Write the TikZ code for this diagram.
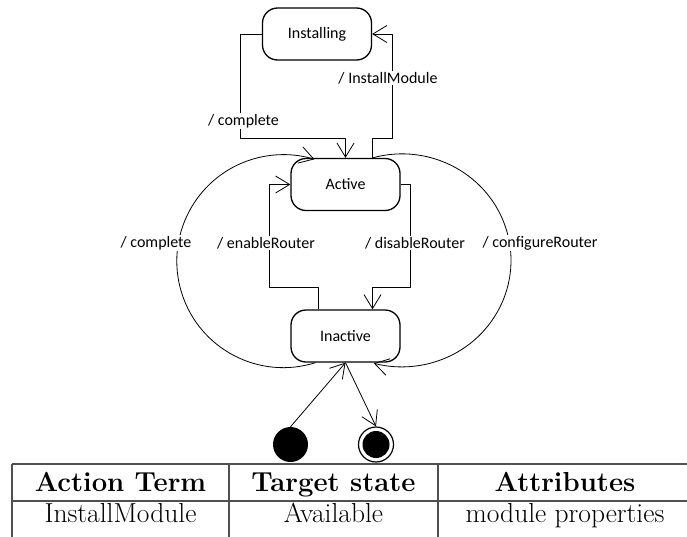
\documentclass[tikz,border=0pt]{standalone}
\usepackage{fontspec}
\newfontfamily\umlfont{Carlito}
\usetikzlibrary{arrows.meta,calc}
\definecolor{rulegray}{RGB}{80,80,80}

\begin{document}
\begin{tikzpicture}[x=1pt,y=-1pt,line join=round,
  state/.style={draw,line width=1.3pt,rounded corners=15pt,minimum width=109pt,minimum height=52pt,
    font=\umlfont\fontsize{16}{19}\selectfont},
  startdot/.style={circle,fill,inner sep=0pt,minimum size=35pt},
  enddot/.style={circle,draw,line width=1.2pt,inner sep=0pt,minimum size=35pt,
    path picture={\fill (path picture bounding box.center) circle (13.5pt);}},
  trans/.style={line width=0.8pt,-{Straight Barb[length=14pt,width=17pt,line width=0.8pt]}},
  lbl/.style={fill=white,inner sep=1pt,font=\umlfont\fontsize{16}{19}\selectfont},
  cell/.style={anchor=base,font=\fontsize{27.5}{33}\selectfont},
  head/.style={anchor=base,font=\fontsize{27.5}{33}\selectfont\bfseries}]
  \useasboundingbox (0,0) rectangle (687,536);
  \clip (0,0) rectangle (687,536);
  % states
  \node[state] (installing) at (317,34) {Installing};
  \node[state] (active) at (345.5,184.5) {Active};
  \node[state] (inactive) at (345.5,336) {Inactive};
  \node[startdot] (init) at (290.5,444.5) {};
  \node[enddot] (final) at (376,444.5) {};
  % transitions
  \draw[trans] (installing.west) -- ++(-21,0) |- ([yshift=19pt]active.north) -- (active.north);
  \draw[trans] ([xshift=27pt]active.north) |- ++(20,-19) |- (installing.east);
  \draw[trans] ([xshift=-27pt]inactive.north) |- ++(-49,-22) |- (active.west);
  \draw[trans] (active.east) -| ++(10,103) -| ([xshift=27pt]inactive.north);
  \draw[trans] ([xshift=-30pt]inactive.south) arc[start angle=72.4,end angle=287,radius=106.5];
  \draw[trans] ([xshift=27pt]active.north) arc[start angle=-105.7,end angle=105,x radius=109,y radius=106.5];
  \draw[trans] (init.north) -- (inactive.south);
  \draw[trans] (inactive.south) -- (final.north);
  \node[lbl] (lcomplete) at (243.5,121) {/ complete};
  \node[lbl] (linstall) at (388,78) {/ InstallModule};
  \node[lbl] (lenable) at (266,243) {/ enableRouter};
  \node[lbl] (ldisable) at (415,243) {/ disableRouter};
  \node[lbl] (lcomplete2) at (156,243) {/ complete};
  \node[lbl] (lconfig) at (540,243) {/ configureRouter};
  % table
  \draw[rulegray,line width=1.2pt] (12,464) -- (700,464) (12,501) -- (700,501);
  \foreach \x in {12,229,438,692} \draw[rulegray,line width=1.2pt] (\x,464) -- (\x,545);
  \node[head] (hterm) at (120.5,491) {Action Term};
  \node[head] (htarget) at (333.5,491) {Target state};
  \node[head] (hattr) at (565,491) {Attributes};
  \node[cell] (cterm) at (120.5,522) {InstallModule};
  \node[cell] (ctarget) at (333.5,522) {Available};
  \node[cell] (cattr) at (565,522) {module properties};
\end{tikzpicture}
\end{document}
